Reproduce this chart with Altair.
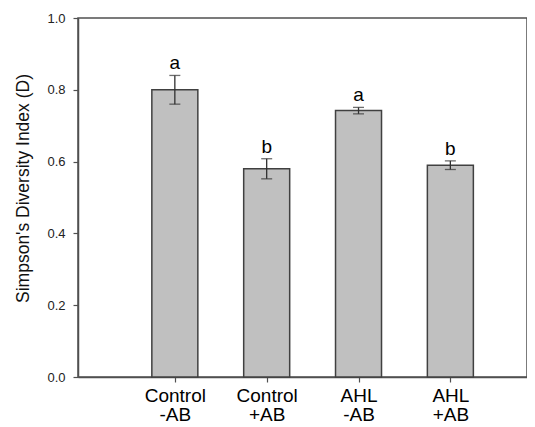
import altair as alt
import pandas as pd

categories = ["Control\n-AB", "Control\n+AB", "AHL\n-AB", "AHL\n+AB"]
positions = [1, 2, 3, 4]
means = [0.80, 0.58, 0.742, 0.590]
errors = [0.040, 0.028, 0.009, 0.012]
letters = ["a", "b", "a", "b"]
y_ticks = [0.0, 0.2, 0.4, 0.6, 0.8, 1.0]

df = pd.DataFrame({
    "pos": positions,
    "cat": categories,
    "mean": means,
    "lo": [m - e for m, e in zip(means, errors)],
    "hi": [m + e for m, e in zip(means, errors)],
    "letter": letters,
})

label_expr = " : ".join(
    f"datum.value == {p} ? {[s for s in c.split(chr(10))]}" for p, c in zip(positions, categories)
) + " : ''"

FONT = "Liberation Sans"
AX = "#505050"
W = 449

x = alt.X("pos:Q", scale=alt.Scale(domain=[0, 4.78], nice=False, zero=False),
          axis=alt.Axis(values=positions, labelExpr=label_expr, title=None, grid=False,
                        tickSize=5, labelFontSize=19, labelPadding=4, labelLineHeight=19,
                        labelColor="black", labelFont=FONT, domainColor=AX, tickColor=AX,
                        domainWidth=1.5, tickWidth=1.2))
y = alt.Y("mean:Q", scale=alt.Scale(domain=[0, 1], nice=False),
          axis=alt.Axis(values=y_ticks, format=".1f", grid=False, tickSize=5,
                        labelFontSize=13, labelPadding=8, labelColor="#222", labelFont=FONT,
                        domainColor=AX, tickColor=AX, domainWidth=1.5, tickWidth=1.2,
                        title="Simpson's Diversity Index (D)", titleFontSize=17.5,
                        titleFont=FONT, titleFontWeight="normal", titleColor="#111",
                        titleX=-50, titleY=170, titleBaseline="alphabetic", titleAngle=270))

base = alt.Chart(df)
bars = base.mark_bar(size=46, color="#c0c0c0", stroke="#404040", strokeWidth=1.5).encode(x=x, y=y)
err = base.mark_rule(color="#303030", strokeWidth=1.3).encode(x="pos:Q", y="lo:Q", y2="hi:Q")
cap_hi = base.mark_tick(orient="horizontal", size=11, thickness=1.3, color="#303030").encode(x="pos:Q", y="hi:Q")
cap_lo = base.mark_tick(orient="horizontal", size=11, thickness=1.3, color="#303030").encode(x="pos:Q", y="lo:Q")
txt = base.mark_text(dy=-6, baseline="alphabetic", fontSize=19, font=FONT, color="black").encode(
    x="pos:Q", y="hi:Q", text="letter:N")

chart = alt.layer(bars, err, cap_hi, cap_lo, txt).properties(
    width=W, height=359,
    padding={"left": 70, "top": 10, "right": 0, "bottom": 50},
    autosize=alt.AutoSizeParams(type="none"),
    background="white",
).configure_view(stroke=AX, strokeWidth=1.5)

chart.save("out.html", embed_options={"renderer": "svg", "actions": False})
